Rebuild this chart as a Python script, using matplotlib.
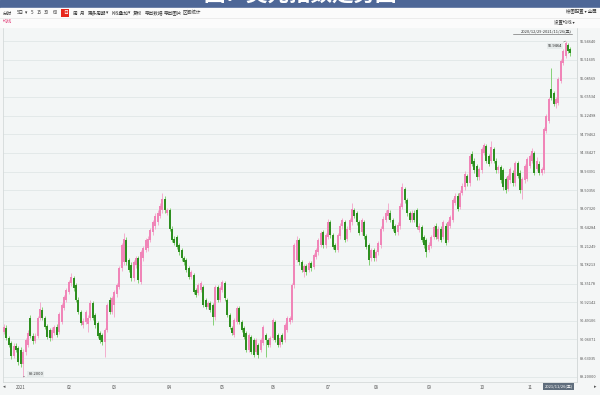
import matplotlib
matplotlib.use("Agg")
import matplotlib.pyplot as plt
from matplotlib.patches import Rectangle
import numpy as np

plt.rcParams['font.family'] = ['Noto Sans CJK SC', 'DejaVu Sans']

# ---------------- data (daily candles, US Dollar Index) ----------------
opens = [90.23,90.32,90.09,89.98,89.68,89.91,89.86,89.82,89.49,89.77,89.93,90.55,90.14,90.02,90.14,90.55,90.74,90.55,90.37,90.28,
         90.09,90.21,90.35,90.23,90.46,90.78,90.97,91.15,91.36,91.47,91.31,90.97,90.69,90.39,90.46,90.41,90.55,90.90,90.62,90.44,
         90.21,90.16,90.00,90.28,90.97,90.69,90.85,91.10,91.27,91.70,91.84,92.35,91.89,91.79,91.47,91.77,91.93,91.38,91.93,92.12,
         92.16,92.35,92.53,92.67,92.76,92.92,93.04,93.31,92.99,93.04,92.62,92.39,92.42,92.23,92.12,91.93,91.89,91.70,91.50,91.54,
         91.20,91.13,91.20,91.27,90.97,90.81,90.90,90.85,90.57,91.27,90.97,91.20,91.36,90.97,90.62,90.32,90.16,90.46,90.78,90.46,
         90.32,90.21,89.82,90.12,90.05,89.77,89.93,89.82,89.98,90.16,90.05,89.93,90.09,90.46,90.16,89.93,90.16,90.05,90.28,90.46,
         90.51,91.31,91.89,92.35,91.84,91.61,91.75,91.66,91.82,91.73,91.96,92.07,92.25,92.53,92.23,92.42,92.76,92.46,92.23,92.12,
         92.44,92.67,92.76,92.39,92.58,92.76,93.04,92.97,92.76,92.53,92.76,92.44,92.23,91.93,92.12,91.93,92.07,92.23,92.62,92.81,
         92.90,92.99,92.81,92.67,92.53,92.67,93.11,93.54,93.27,92.97,92.81,92.99,93.04,92.58,92.65,92.42,92.35,92.12,92.21,92.42,
         92.69,92.39,92.62,92.42,92.69,92.35,92.69,92.81,93.22,93.38,93.11,93.45,93.57,93.84,93.66,94.35,94.19,94.07,93.80,93.96,
         94.37,94.53,94.30,94.19,94.46,94.19,93.96,94.03,93.96,93.77,93.54,93.73,93.91,93.66,94.14,93.91,93.50,93.73,93.77,94.07,
         94.19,94.37,94.00,94.12,93.91,93.96,94.88,95.11,95.84,95.75,95.50,95.52,96.03,96.44,96.60,96.85,96.76]
closes = [90.35,90.09,89.93,89.68,89.91,89.82,89.54,89.49,89.77,90.05,90.21,90.14,90.02,90.14,90.55,90.76,90.55,90.35,90.12,90.09,
          90.28,90.35,90.16,90.64,90.85,91.03,91.20,91.38,91.50,91.24,90.97,90.69,90.44,90.48,90.69,90.55,90.90,90.55,90.39,90.14,
          90.05,90.00,90.28,90.85,90.69,91.01,91.15,91.31,91.70,92.23,92.39,91.84,91.66,91.47,91.84,91.93,91.43,92.07,92.16,92.35,
          92.39,92.58,92.76,92.92,92.99,93.15,93.31,93.04,93.04,92.62,92.35,92.28,92.19,92.07,91.93,91.84,91.66,91.50,91.61,91.15,
          91.08,91.31,91.36,90.85,90.81,90.90,90.74,90.57,91.27,90.97,91.24,91.38,91.01,90.62,90.35,90.21,90.51,90.78,90.46,90.28,
          90.12,89.82,90.16,89.77,89.70,90.05,89.70,90.05,90.35,90.05,89.93,90.09,90.51,90.05,89.93,90.09,90.00,90.39,90.55,90.55,
          91.31,92.23,92.35,91.84,91.66,91.75,91.61,91.82,91.70,92.00,92.12,92.35,92.51,92.23,92.46,92.78,92.46,92.19,92.12,92.46,
          92.69,92.81,92.35,92.62,92.81,93.08,92.92,92.76,92.51,92.81,92.44,92.19,91.89,92.12,91.93,92.07,92.28,92.62,92.85,92.99,
          93.04,92.81,92.62,92.51,92.71,93.15,93.57,93.27,92.97,92.81,92.99,92.81,92.65,92.69,92.35,92.23,92.07,92.25,92.42,92.65,
          92.42,92.62,92.35,92.76,92.28,92.76,92.88,93.27,93.38,93.08,93.45,93.61,93.89,93.66,94.30,94.12,93.96,93.80,94.00,94.46,
          94.55,94.19,94.12,94.51,94.19,93.96,94.03,93.73,93.57,93.50,93.84,94.00,93.66,94.14,93.84,93.50,93.77,94.07,94.23,94.30,
          94.42,93.91,94.19,93.91,94.00,94.92,95.22,95.61,95.64,95.50,95.61,96.07,96.49,96.72,96.90,96.72,96.67]
highs = [90.42,90.40,90.14,90.02,89.98,89.97,89.91,89.88,89.83,90.10,90.28,90.62,90.20,90.21,90.60,90.92,90.80,90.60,90.42,90.33,
         90.34,90.40,90.41,90.69,90.90,91.08,91.26,91.44,91.60,91.52,91.36,91.03,90.74,90.55,90.74,90.62,90.97,90.95,90.67,90.48,
         90.26,90.21,90.33,90.90,91.03,91.06,91.20,91.36,91.75,92.28,92.51,92.42,91.93,91.84,91.89,91.98,91.98,92.12,92.21,92.40,
         92.44,92.63,92.81,92.97,93.04,93.20,93.43,93.36,93.09,93.09,92.67,92.44,92.47,92.28,92.17,91.98,91.94,91.75,91.66,91.59,
         91.25,91.36,91.41,91.32,91.02,90.95,90.95,90.90,91.32,91.32,91.29,91.43,91.41,91.02,90.67,90.37,90.56,90.83,90.83,90.51,
         90.37,90.26,90.21,90.17,90.10,90.10,89.98,90.10,90.40,90.21,90.10,90.14,90.56,90.51,90.21,90.14,90.21,90.44,90.60,90.60,
         91.36,92.28,92.44,92.40,91.89,91.80,91.80,91.87,91.87,92.05,92.17,92.40,92.56,92.58,92.51,92.83,92.81,92.51,92.28,92.51,
         92.74,92.86,92.81,92.67,92.86,93.20,93.09,93.02,92.81,92.86,92.81,92.49,92.28,92.17,92.17,92.12,92.33,92.67,92.90,93.04,
         93.20,93.04,92.86,92.72,92.76,93.20,93.68,93.59,93.32,93.02,93.04,93.04,93.09,92.74,92.70,92.47,92.40,92.30,92.47,92.70,
         92.74,92.67,92.67,92.81,92.74,92.81,92.93,93.32,93.43,93.43,93.50,93.66,93.94,93.89,94.35,94.40,94.24,94.12,94.05,94.51,
         94.60,94.58,94.35,94.65,94.51,94.24,94.08,94.08,94.01,93.82,93.89,94.05,93.96,94.19,94.19,93.96,93.82,94.12,94.28,94.35,
         94.47,94.42,94.28,94.17,94.05,94.97,95.27,95.66,96.33,95.80,95.66,96.12,96.54,96.77,96.946,96.90,96.80]
lows = [90.18,90.04,89.88,89.62,89.63,89.77,89.48,89.42,89.20,89.70,89.88,90.09,89.96,89.97,90.09,90.50,90.50,90.30,90.07,90.02,
        90.04,90.16,90.11,90.18,90.41,90.74,90.92,91.10,91.30,91.19,90.92,90.64,90.39,90.33,90.41,90.23,90.50,90.50,90.33,90.09,
        89.98,89.93,89.66,90.23,90.64,90.64,90.57,91.05,91.22,91.65,91.79,91.79,91.61,91.42,91.42,91.72,91.36,91.33,91.88,92.07,
        92.11,92.30,92.48,92.62,92.71,92.87,92.99,92.99,92.94,92.57,92.30,92.23,92.14,92.02,91.88,91.79,91.61,91.45,91.45,91.10,
        91.03,91.08,91.15,90.80,90.76,90.76,90.69,90.39,90.52,90.92,90.92,91.15,90.96,90.57,90.30,90.16,90.11,90.41,90.41,90.23,
        90.07,89.77,89.77,89.72,89.66,89.72,89.63,89.77,89.93,89.66,89.88,89.88,90.04,90.00,89.88,89.88,89.95,90.00,90.23,90.41,
        90.46,91.26,91.84,91.79,91.61,91.50,91.56,91.61,91.65,91.68,91.91,92.02,92.20,92.18,92.18,92.37,92.41,92.14,92.07,92.07,
        92.39,92.62,92.30,92.34,92.53,92.71,92.87,92.71,92.46,92.48,92.39,92.14,91.77,91.88,91.88,91.88,92.02,92.18,92.57,92.76,
        92.85,92.76,92.57,92.46,92.48,92.62,93.06,93.22,92.92,92.76,92.76,92.76,92.60,92.53,92.30,92.18,91.96,92.07,92.16,92.37,
        92.37,92.34,92.30,92.37,92.23,92.30,92.64,92.76,93.17,93.03,93.06,93.40,93.52,93.61,93.61,94.07,93.91,93.75,93.75,93.91,
        94.32,94.14,94.07,94.14,94.14,93.91,93.91,93.68,93.52,93.45,93.49,93.68,93.61,93.61,93.79,93.45,93.31,93.68,93.72,94.02,
        94.14,93.86,93.95,93.86,93.86,93.91,94.83,95.06,95.59,95.45,95.40,95.47,95.98,96.39,96.55,96.67,96.60]

month_labels = ['2021', '02', '03', '04', '05', '06', '07', '08', '09', '10', '11']
month_start_idx = [7, 27, 46, 69, 91, 112, 135, 155, 177, 199, 219]
y_tick_labels = ['89.20000', '89.63035', '90.06071', '90.49106', '90.92142', '91.35178', '91.78213',
                 '92.21249', '92.64284', '93.07320', '93.50356', '93.93391', '94.36427', '94.79462',
                 '95.22498', '95.65534', '96.08569', '96.51605', '96.94640']
min_label = '89.2000'
max_label = '96.9464'
range_text = '2020/12/29-2021/11/26(五)'
last_date = '2021/11/26(五)'
title = '图：美元指数走势图'

# ---------------- figure ----------------
W, H = 600, 395
fig = plt.figure(figsize=(6, 3.95), dpi=100, facecolor='#f4f6f6')

def fx(px):
    return px / W

def fy(py):
    return 1 - py / H

# title bar (its text is cut by the top edge, as in the screenshot)
fig.patches.append(Rectangle((0, fy(8.5)), 1, 1 - fy(8.5), transform=fig.transFigure,
                             color='#4e6797', zorder=0))
fig.text(0.5, fy(-5.5), title, color='white', fontsize=15.5, fontweight='bold',
         ha='center', va='center')
# toolbar
fig.patches.append(Rectangle((0, fy(27)), 1, fy(8.5) - fy(27), transform=fig.transFigure,
                             color='#fbfbfb', zorder=0))
fig.add_artist(plt.Line2D([0, 1], [fy(17.5), fy(17.5)], transform=fig.transFigure,
                          color='#e6e6e6', lw=0.5))
tool_items = [('分时', 3), ('5日', 17), ('▾', 25), ('5', 30.5), ('15', 36.5), ('30', 44), ('60', 52.5),
              ('周', 72.5), ('月', 79.5), ('更多周期', 88), ('▾', 106), ('K线叠加', 111), ('▾', 128),
              ('复权', 133), ('导出数据', 145), ('导出图片', 164), ('区间统计', 183)]
for t, x in tool_items:
    fig.text(fx(x), fy(13), t, fontsize=3.3, color='#333333', ha='left', va='center')
fig.text(fx(65), fy(13), '日', fontsize=3.4, color='white', ha='center', va='center',
         bbox=dict(boxstyle='square,pad=0.35', fc='#e8271b', ec='none'))
fig.text(fx(597), fy(11), '绘图配置 ▾ 全屏', fontsize=3.2, color='#333333', ha='right', va='center')
fig.text(fx(3), fy(21), '均线', fontsize=3.3, color='#e2407a', ha='left', va='center')
fig.text(fx(575), fy(22), '设置均线 ▾', fontsize=3.2, color='#333333', ha='right', va='center')

# main axes
ax = fig.add_axes([fx(3), fy(382), fx(577) - fx(3), fy(27) - fy(382)])
ax.set_facecolor('#f3f6f6')
ax.set_xlim(-0.42, 238.75)
ax.set_ylim(89.08, 97.27)

o = np.array(opens); c = np.array(closes); h = np.array(highs); l = np.array(lows)
idx = np.arange(len(o))
up = c >= o
up_body, up_wick = '#f085b8', '#f3a3c8'
dn_body, dn_wick = '#2e8f20', '#74cc62'
ax.vlines(idx[up], l[up], h[up], color=up_wick, lw=0.6, zorder=2)
ax.vlines(idx[~up], l[~up], h[~up], color=dn_wick, lw=0.6, zorder=2)
body_h = np.maximum(np.abs(c - o), 0.03)
ax.bar(idx[up], body_h[up], bottom=np.minimum(o, c)[up], width=0.78, color=up_body, lw=0, zorder=3)
ax.bar(idx[~up], body_h[~up], bottom=np.minimum(o, c)[~up], width=0.78, color=dn_body, lw=0, zorder=3)

# y axis on the right
yt = [float(s) for s in y_tick_labels]
ax.set_yticks(yt)
ax.set_yticklabels(y_tick_labels)
ax.yaxis.tick_right()
ax.tick_params(axis='y', length=0, pad=2.2, labelsize=2.8, labelcolor='#555555')
ax.grid(axis='y', color='#e1e7e7', lw=0.6, zorder=0)

# x axis
ax.set_xticks(month_start_idx)
ax.set_xticklabels(month_labels)
ax.tick_params(axis='x', length=0, pad=2.2, labelsize=3.2, labelcolor='#555555')

for s in ['top', 'left', 'bottom']:
    ax.spines[s].set_color('#d5dada')
    ax.spines[s].set_linewidth(0.6)
ax.spines['right'].set_color('#cfd5d5')
ax.spines['right'].set_linewidth(0.6)

# min / max markers
i_min = int(np.argmin(l)); i_max = int(np.argmax(h))
ax.annotate(min_label, xy=(i_min, l[i_min]), xytext=(i_min + 2.2, l[i_min] + 0.06),
            fontsize=2.9, color='#333333', va='center', ha='left',
            bbox=dict(boxstyle='square,pad=0.25', fc='#e6ebeb', ec='none'),
            arrowprops=dict(arrowstyle='-', color='#777777', lw=0.4), zorder=5)
ax.annotate(max_label, xy=(i_max, h[i_max]), xytext=(i_max - 1.5, h[i_max] - 0.12),
            fontsize=2.9, color='#222222', va='center', ha='right',
            bbox=dict(boxstyle='square,pad=0.25', fc='#e6ebeb', ec='none'),
            arrowprops=dict(arrowstyle='-', color='#777777', lw=0.4), zorder=5)

# range text inside chart
fig.text(fx(572), fy(31), range_text, fontsize=2.9, color='#333333', ha='right', va='center')
fig.add_artist(plt.Line2D([fx(513), fx(572)], [fy(33.5), fy(33.5)], transform=fig.transFigure,
                          color='#555555', lw=0.4))

# bottom strip elements
fig.text(fx(3), fy(386.5), '◂', fontsize=3.5, color='#555555', ha='left', va='center')
fig.text(fx(596), fy(386.5), '▸', fontsize=3.5, color='#555555', ha='right', va='center')
fig.text(fx(558.5), fy(386.5), last_date, fontsize=2.9, color='white', ha='center', va='center',
         bbox=dict(boxstyle='square,pad=0.3', fc='#5f6d7c', ec='none'))

fig.savefig('out.png', dpi=100, facecolor=fig.get_facecolor())
